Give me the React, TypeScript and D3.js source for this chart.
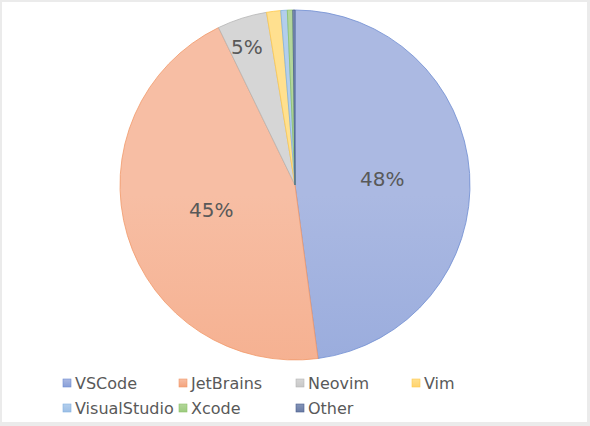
import React from "react";
import * as d3 from "d3";

const categories = ["VSCode", "JetBrains", "Neovim", "Vim", "VisualStudio", "Xcode", "Other"];
const shares = [47.9, 44.9, 4.6, 1.3, 0.6, 0.5, 0.2];
const strokeColors = ["#6F8DD2", "#F1996A", "#B5B5B5", "#FFC94D", "#82B1E0", "#8CC16A", "#4B5F8E"];
const topColors = ["#ABB9E2", "#F7BEA4", "#D6D6D6", "#FFE08F", "#B3CEEC", "#B3D69B", "#8494B8"];
const bottomColors = ["#889FD8", "#F4A37D", "#C8C8C8", "#FFD36E", "#9DBFE6", "#9CCB7E", "#6B7DA6"];

const W = 590;
const H = 426;
const cx = 295;
const cy = 185;
const R = 175;

export default function App() {
  const data = categories.map((c, i) => ({ name: c, value: shares[i], i }));
  const pie = d3.pie<any>().value((d) => d.value).sort(null).startAngle(0).endAngle(2 * Math.PI);
  const arcs = pie(data);
  const arcGen = d3.arc<any>().innerRadius(0).outerRadius(R);
  const labelArc = d3.arc<any>().innerRadius(R * 0.5).outerRadius(R * 0.5);
  const outerLabelArc = d3.arc<any>().innerRadius(R * 0.83).outerRadius(R * 0.83);
  const total = d3.sum(shares);

  const legendX = [62, 178, 295, 411];
  const legendY = [383, 408];

  return (
    <svg width={W} height={H} style={{ position: "absolute", left: 0, top: 0 }} fontFamily="'DejaVu Sans', 'Noto Sans', sans-serif">
      <defs>
        {categories.map((c, i) => (
          <linearGradient key={c} id={`g${i}`} gradientUnits="userSpaceOnUse" x1={0} y1={cy - R} x2={0} y2={cy + R}>
            <stop offset="0" stopColor={topColors[i]} />
            <stop offset="1" stopColor={bottomColors[i]} />
          </linearGradient>
        ))}
        {categories.map((c, i) => (
          <linearGradient key={c + "l"} id={`lg${i}`} x1={0} y1={0} x2={0} y2={1}>
            <stop offset="0" stopColor={topColors[i]} />
            <stop offset="1" stopColor={bottomColors[i]} />
          </linearGradient>
        ))}
      </defs>
      <rect x={0} y={0} width={W} height={H} fill="#EBEBEB" />
      <rect x={2} y={2} width={W - 5} height={H - 6} fill="#FFFFFF" />
      <g transform={`translate(${cx},${cy})`}>
        {arcs.map((a) => (
          <path key={a.data.name} d={arcGen(a) || ""} fill={`url(#g${a.data.i})`} stroke={strokeColors[a.data.i]} strokeWidth={0.8} />
        ))}
        {arcs.map((a) => {
          const pct = Math.round((a.data.value / total) * 100);
          if (pct < 3) return null;
          const [lx, ly] = a.data.i === 2 ? outerLabelArc.centroid(a) : labelArc.centroid(a);
          return (
            <text key={a.data.name + "t"} x={lx - (a.data.i === 2 ? 4 : 0)} y={ly} dy="0.35em" textAnchor="middle" fontSize={20} fill="#595959">
              {pct}%
            </text>
          );
        })}
      </g>
      {categories.map((c, i) => {
        const col = i < 4 ? i : i - 4;
        const row = i < 4 ? 0 : 1;
        const x = legendX[col];
        const y = legendY[row];
        return (
          <g key={c + "leg"}>
            <rect x={x + 1} y={y - 4} width={8} height={8} fill={`url(#lg${i})`} stroke={strokeColors[i]} strokeWidth={0.6} />
            <text x={x + 13} y={y} dy="0.35em" fontSize={16} fill="#595959">{c}</text>
          </g>
        );
      })}
    </svg>
  );
}
